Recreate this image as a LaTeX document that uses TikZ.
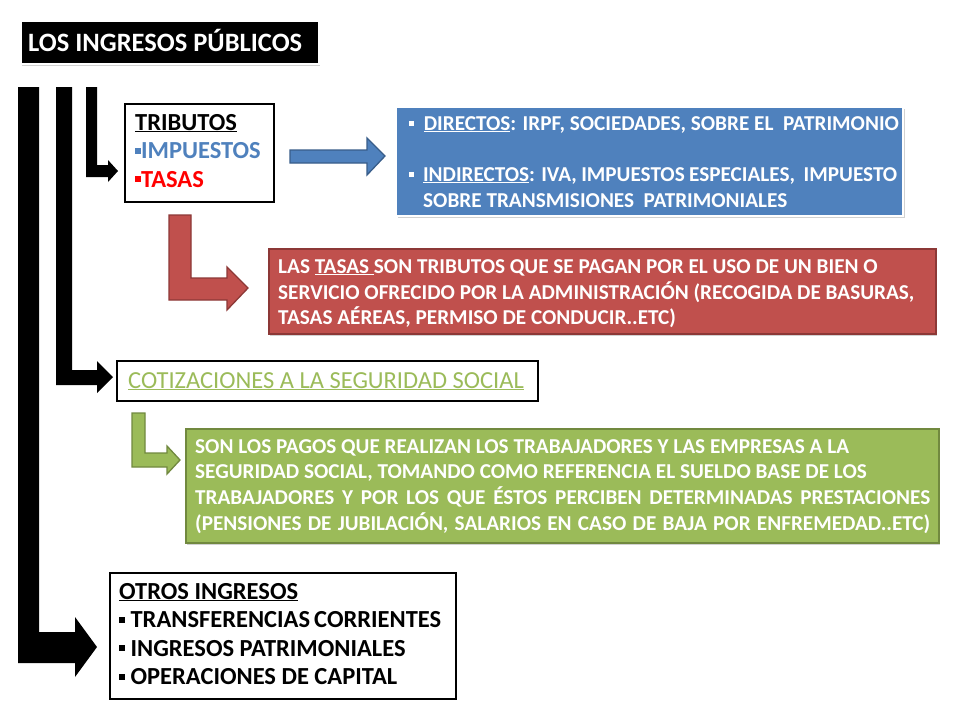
\documentclass[tikz,border=0pt]{standalone}
\usepackage{fontspec}
\setmainfont{Carlito}
\usetikzlibrary{shadows}
\definecolor{ppblue}{HTML}{4F81BD}
\definecolor{ppblued}{HTML}{385D8A}
\definecolor{ppred}{HTML}{C0504D}
\definecolor{ppredd}{HTML}{8C3836}
\definecolor{ppgreen}{HTML}{9BBB59}
\definecolor{ppgreend}{HTML}{71893F}
\definecolor{tred}{HTML}{FF0000}
\newcommand{\sqb}[1]{\textcolor{#1}{\rule[0.2em]{0.24em}{0.24em}}}
\tikzset{
  wbox/.style={draw=black, line width=2.2pt, fill=white},
  big/.style={font=\fontsize{24.5}{28.5}\selectfont\bfseries, inner sep=0pt, anchor=base west},
  small/.style={font=\fontsize{21.2}{25}\selectfont\bfseries, text=white, inner sep=0pt, anchor=base west},
  shad/.style={drop shadow={shadow xshift=1.5pt, shadow yshift=-2pt, fill=black!40, opacity=0.45}},
}
\begin{document}
\begin{tikzpicture}[x=1pt,y=-1pt]
\useasboundingbox (0,0) rectangle (960,720);
\fill[white] (0,0) rectangle (960,720);

% title
\node[shad, fill=black, draw=white, line width=1.5pt, minimum width=298pt, minimum height=43pt, anchor=north west, inner sep=0pt] (title) at (20,20) {};
\node[big, text=white, font=\fontsize{26.5}{30}\selectfont\bfseries] (titletxt) at (28,51) {LOS INGRESOS PÚBLICOS};

% black bent arrows
\fill[black] (18,87) -- (39,87) -- (39,632) -- (75,632) -- (75,617) -- (97,647) -- (75,677) -- (75,663) -- (18,663) -- cycle;
\fill[black] (56,87) -- (72,87) -- (72,370) -- (97,370) -- (97,361) -- (113,377) -- (97,393) -- (97,385) -- (56,385) -- cycle;
\fill[black] (86,87) -- (97,87) -- (97,165) -- (108,165) -- (108,160) -- (118,171) -- (108,182) -- (108,177) -- (86,177) -- cycle;

% tributos box
\node[wbox, minimum width=149pt, minimum height=98pt, anchor=north west, inner sep=0pt] (tri) at (124,103) {};
\node[big] (t1) at (135,130) {\underline{TRIBUTOS}};
\node[big, text=ppblue] (t2) at (135,158.5) {\sqb{ppblue}IMPUESTOS};
\node[big, text=tred] (t3) at (135,187) {\sqb{tred}TASAS};

% blue arrow
\filldraw[fill=ppblue, draw=ppblued, line width=1.3pt] (290,150) -- (367,150) -- (367,138) -- (385,156) -- (367,175) -- (367,163) -- (290,163) -- cycle;

% blue box
\node[shad, fill=ppblue, draw=white, line width=2pt, minimum width=507pt, minimum height=109pt, anchor=north west, inner sep=0pt] (blue) at (395,106) {};
\node[small] (b1) at (409,130) {\sqb{white}\ \ \underline{DIRECTOS}: IRPF, SOCIEDADES, SOBRE EL\ \ PATRIMONIO};
\node[small] (b2) at (409,181) {\makebox[488pt][s]{\sqb{white}\ \ \underline{INDIRECTOS}: IVA, IMPUESTOS ESPECIALES,\ \ IMPUESTO}};
\node[small] (b3) at (423,207) {SOBRE TRANSMISIONES\ \ PATRIMONIALES};

% red bent arrow
\filldraw[fill=ppred, draw=ppredd, line width=1.3pt] (169,215) -- (191,215) -- (191,278) -- (227,278) -- (227,267) -- (248,288) -- (227,310) -- (227,300) -- (169,300) -- cycle;

% red box
\node[shad, fill=ppred, draw=ppredd, line width=1.5pt, minimum width=667pt, minimum height=85pt, anchor=north west, inner sep=0pt] (red) at (268,248) {};
\node[small] (r1) at (278,273) {LAS \underline{TASAS\ }SON TRIBUTOS QUE SE PAGAN POR EL USO DE UN BIEN O};
\node[small] (r2) at (278,299) {SERVICIO OFRECIDO POR LA ADMINISTRACIÓN (RECOGIDA DE BASURAS,};
\node[small] (r3) at (278,324) {TASAS AÉREAS, PERMISO DE CONDUCIR..ETC)};

% cotizaciones
\node[wbox, minimum width=421pt, minimum height=40pt, anchor=north west, inner sep=0pt] (coti) at (116,360) {};
\node[big, font=\fontsize{24.5}{28.5}\selectfont, text=ppgreen] (c1) at (128,388) {\underline{COTIZACIONES A LA SEGURIDAD SOCIAL}};

% green bent arrow
\filldraw[fill=ppgreen, draw=ppgreend, line width=1.3pt] (132,413) -- (145,413) -- (145,453) -- (167,453) -- (167,446) -- (180,460) -- (167,474) -- (167,467) -- (132,467) -- cycle;

% green box
\node[shad, fill=ppgreen, draw=ppgreend, line width=1.5pt, minimum width=753pt, minimum height=114pt, anchor=north west, inner sep=0pt] (green) at (185,428) {};
\node[small] (g1) at (195,453) {SON LOS PAGOS QUE REALIZAN LOS TRABAJADORES Y LAS EMPRESAS A LA};
\node[small] (g2) at (195,478.5) {SEGURIDAD SOCIAL, TOMANDO COMO REFERENCIA EL SUELDO BASE DE LOS};
\node[small] (g3) at (195,504) {\makebox[735pt][s]{TRABAJADORES Y POR LOS QUE ÉSTOS PERCIBEN DETERMINADAS PRESTACIONES}};
\node[small] (g4) at (195,530) {\makebox[735pt][s]{(PENSIONES DE JUBILACIÓN, SALARIOS EN CASO DE BAJA POR ENFREMEDAD..ETC)}};

% otros
\node[wbox, minimum width=346pt, minimum height=126pt, anchor=north west, inner sep=0pt] (otros) at (109,572) {};
\node[big] (o1) at (119,599) {\underline{OTROS INGRESOS}};
\node[big] (o2) at (119,627.5) {\sqb{black}\ TRANSFERENCIAS\,CORRIENTES};
\node[big] (o3) at (119,656) {\sqb{black}\ INGRESOS PATRIMONIALES};
\node[big] (o4) at (119,684.5) {\sqb{black}\ OPERACIONES DE CAPITAL};
\end{tikzpicture}
\end{document}
